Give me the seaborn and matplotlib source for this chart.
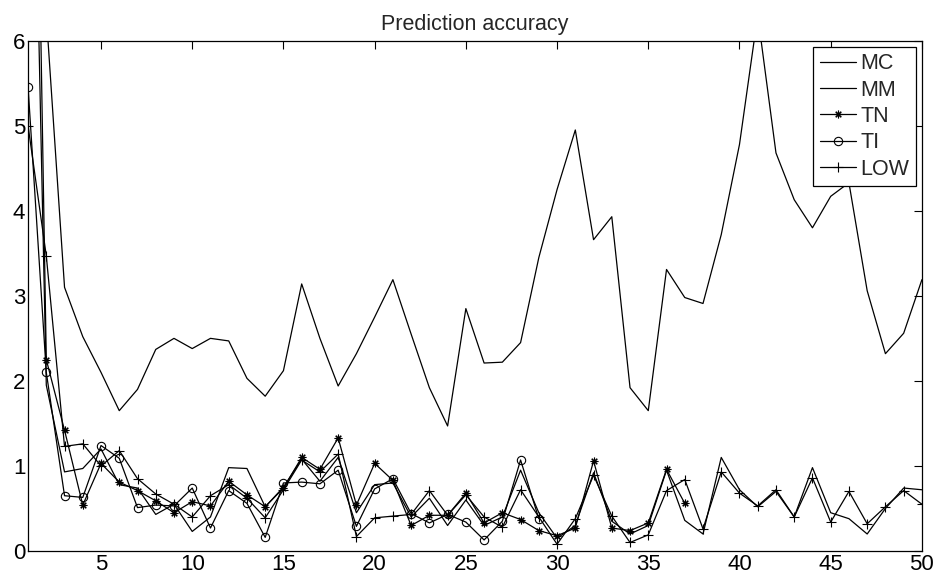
import numpy as np
import pandas as pd
import matplotlib
matplotlib.use("Agg")
import matplotlib.pyplot as plt
import seaborn as sns

# ─────────────────────────────────────────────
# Data
# ─────────────────────────────────────────────
mc = [7.5, 6.3, 3.10, 2.52, 2.10, 1.65, 1.90, 2.37, 2.50, 2.38,
      2.50, 2.47, 2.03, 1.82, 2.12, 3.14, 2.50, 1.94, 2.32, 2.75,
      3.19, 2.55, 1.92, 1.47, 2.85, 2.21, 2.22, 2.45, 3.45, 4.25,
      4.95, 3.66, 3.93, 1.92, 1.65, 3.31, 2.98, 2.91, 3.72, 4.78,
      6.30, 4.68, 4.13, 3.80, 4.17, 4.33, 3.06, 2.32, 2.56, 3.19]

mm = [12.0, 1.95, 0.93, 0.97, 1.20, 0.78, 0.74, 0.43, 0.55, 0.23,
      0.40, 0.98, 0.97, 0.52, 0.75, 1.08, 0.82, 1.10, 0.45, 0.78,
      0.80, 0.40, 0.62, 0.30, 0.60, 0.30, 0.40, 0.95, 0.45, 0.15,
      0.30, 0.92, 0.35, 0.20, 0.30, 0.95, 0.36, 0.20, 1.10, 0.72,
      0.52, 0.70, 0.40, 0.98, 0.45, 0.38, 0.20, 0.50, 0.74, 0.72]

tn = [15.0, 2.25, 1.42, 0.54, 1.03, 0.81, 0.71, 0.59, 0.45, 0.58,
      0.53, 0.82, 0.66, 0.52, 0.74, 1.10, 0.96, 1.33, 0.54, 1.03,
      0.83, 0.30, 0.42, 0.42, 0.68, 0.33, 0.45, 0.37, 0.24, 0.18,
      0.27, 1.06, 0.27, 0.24, 0.33, 0.96, 0.56]

ti = [5.46, 2.10, 0.65, 0.63, 1.24, 1.09, 0.51, 0.54, 0.53, 0.74,
      0.27, 0.71, 0.56, 0.16, 0.80, 0.81, 0.79, 0.95, 0.29, 0.73,
      0.85, 0.44, 0.33, 0.43, 0.34, 0.13, 0.35, 1.07, 0.38]

low = [5.00, 3.47, 1.23, 1.26, 1.00, 1.18, 0.85, 0.67, 0.55, 0.40,
       0.65, 0.78, 0.62, 0.39, 0.72, 1.07, 0.93, 1.14, 0.17, 0.39,
       0.41, 0.43, 0.71, 0.42, 0.66, 0.40, 0.28, 0.72, 0.40, 0.08,
       0.38, 0.89, 0.41, 0.10, 0.19, 0.71, 0.84, 0.26, 0.93, 0.68,
       0.53, 0.72, 0.40, 0.86, 0.34, 0.70, 0.32, 0.52, 0.71, 0.55]

series = [
    ("MC", mc, None, 0),
    ("MM", mm, None, 0),
    ("TN", tn, (8, 2, 0), 5.5),
    ("TI", ti, "o", 6),
    ("LOW", low, "+", 7),
]

# ─────────────────────────────────────────────
# Plot
# ─────────────────────────────────────────────
sns.set_theme(style="white")
plt.rcParams["font.family"] = ["Liberation Sans", "DejaVu Sans"]

fig = plt.figure(figsize=(9.35, 5.76), dpi=100)
ax = fig.add_axes([0.030, 0.0434, 0.956, 0.886])

for name, vals, mk, ms in series:
    x = np.arange(1, len(vals) + 1)
    sns.lineplot(x=x, y=vals, ax=ax, color="black", linewidth=0.9,
                 marker=mk, markersize=ms, markerfacecolor="none",
                 markeredgecolor="black", markeredgewidth=0.8,
                 estimator=None, sort=False, label=name)

ax.set_xlim(1, 50)
ax.set_ylim(0, 6)
ax.set_xticks(range(5, 51, 5))
ax.set_yticks(range(0, 7))
ax.tick_params(direction="in", top=True, right=True, length=6, width=0.8,
               labelsize=16, pad=2, colors="black")
for sp in ax.spines.values():
    sp.set_visible(True)
    sp.set_color("black")
    sp.set_linewidth(0.9)

ax.set_title("Prediction accuracy", fontsize=15.5, pad=8)
ax.set_xlabel("")
ax.set_ylabel("")

leg = ax.legend(loc="upper right", fontsize=15.5, frameon=True, fancybox=False,
                edgecolor="black", framealpha=1, handlelength=1.7,
                handletextpad=0.2, labelspacing=0.25, borderpad=0.3,
                borderaxespad=0.28)
leg.get_frame().set_linewidth(0.9)

fig.savefig("out.png", dpi=100)
